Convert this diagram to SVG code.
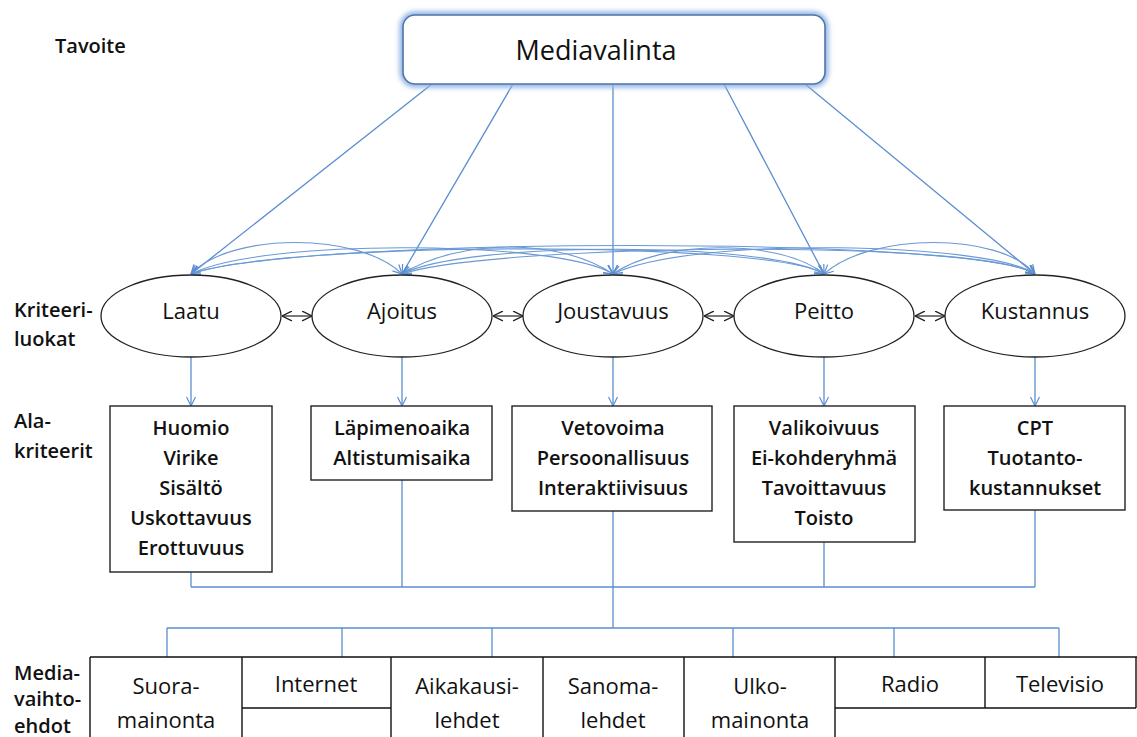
<svg xmlns="http://www.w3.org/2000/svg" width="1137" height="737" viewBox="0 0 1137 737">
<defs>
<marker id="ab" viewBox="0 0 10 10" refX="10" refY="5" markerWidth="10" markerHeight="10" markerUnits="userSpaceOnUse" orient="auto-start-reverse"><path d="M1,0.5 L10,5 L1,9.5" fill="none" stroke="#5B8ED0" stroke-width="1.2"/></marker>
<marker id="ak" viewBox="0 0 10 10" refX="10" refY="5" markerWidth="11" markerHeight="11" markerUnits="userSpaceOnUse" orient="auto-start-reverse"><path d="M1,0.5 L10,5 L1,9.5" fill="none" stroke="#222" stroke-width="1.2"/></marker>
<filter id="glow" x="-10%" y="-30%" width="120%" height="160%"><feGaussianBlur stdDeviation="2.5"/></filter>
</defs>
<style>
text{font-family:"Open Sans","Noto Sans","DejaVu Sans",sans-serif;fill:#111}
.lbl{font-size:20px;font-weight:600}
.sub{font-size:20px;font-weight:600;text-anchor:middle}
.ell{font-size:22px;text-anchor:middle}
.med{font-size:22px;text-anchor:middle}
.el{fill:#fff;stroke:#222;stroke-width:1.3}
.bx{fill:#fff;stroke:#222;stroke-width:1.4}
.cn{fill:none;stroke:#5B8ED0;stroke-width:1.3}
.cm{fill:none;stroke:#5B8ED0;stroke-width:1.3;marker-end:url(#ab)}
.cc{fill:none;stroke:#6A99D6;stroke-width:1.1;marker-start:url(#ab);marker-end:url(#ab)}
.dk{fill:none;stroke:#222;stroke-width:1.2;marker-start:url(#ak);marker-end:url(#ak)}
.mb{fill:none;stroke:#111;stroke-width:1.4}
</style>
<rect width="1137" height="737" fill="#fff"/>

<g id="labels">
<text class="lbl" x="55" y="53">Tavoite</text>
<text class="lbl" x="14" y="317">Kriteeri-</text>
<text class="lbl" x="14" y="346">luokat</text>
<text class="lbl" x="14" y="428">Ala-</text>
<text class="lbl" x="14" y="458">kriteerit</text>
<text class="lbl" x="14" y="680">Media-</text>
<text class="lbl" x="14" y="706">vaihto-</text>
<text class="lbl" x="14" y="733">ehdot</text>
</g>

<g id="connectors">
<line class="cm" x1="432" y1="84" x2="191" y2="274"/>
<line class="cm" x1="513" y1="84" x2="402" y2="274"/>
<line class="cm" x1="613" y1="84" x2="613" y2="274"/>
<line class="cm" x1="724" y1="84" x2="824" y2="274"/>
<line class="cm" x1="805" y1="84" x2="1035" y2="274"/>
<path class="cc" d="M191,274 C230,232 360,232 402,274"/>
<path class="cc" d="M191,274 C260,238 560,240 613,274"/>
<path class="cc" d="M191,274 C280,241 770,240 824,274"/>
<path class="cc" d="M191,274 C300,236 980,236 1035,274"/>
<path class="cc" d="M402,274 C460,238 560,238 613,274"/>
<path class="cc" d="M402,274 C470,240 770,242 824,274"/>
<path class="cc" d="M402,274 C490,244 980,238 1035,274"/>
<path class="cc" d="M613,274 C660,240 780,238 824,274"/>
<path class="cc" d="M613,274 C690,236 990,242 1035,274"/>
<path class="cc" d="M824,274 C870,232 1000,232 1035,274"/>
<line class="dk" x1="282" y1="316" x2="312" y2="316"/>
<line class="dk" x1="493" y1="316" x2="523" y2="316"/>
<line class="dk" x1="704" y1="316" x2="734" y2="316"/>
<line class="dk" x1="915" y1="316" x2="945" y2="316"/>
<line class="cm" x1="191" y1="356" x2="191" y2="406"/>
<line class="cm" x1="402" y1="356" x2="402" y2="406"/>
<line class="cm" x1="613" y1="356" x2="613" y2="406"/>
<line class="cm" x1="824" y1="356" x2="824" y2="406"/>
<line class="cm" x1="1035" y1="356" x2="1035" y2="406"/>
<path class="cn" d="M191,572 V587 M402,480 V587 M613,511 V628 M824,542 V587 M1035,510 V587 M191,587 H1035"/>
<path class="cn" d="M167,628 H1059 M167,628 V657 M342,628 V657 M492,628 V657 M733,628 V657 M894,628 V657 M1059,628 V657"/>
</g>

<g id="n-mediavalinta">
<rect x="403" y="15" width="422" height="69" rx="12" fill="none" stroke="#8FB3E3" stroke-width="7" filter="url(#glow)"/>
<rect x="403" y="15" width="422" height="69" rx="12" fill="#fff" stroke="#4F74A8" stroke-width="1.6"/>
<text x="596" y="60" style="font-size:27px;text-anchor:middle">Mediavalinta</text>
</g>

<g id="n-laatu"><ellipse class="el" cx="191" cy="316" rx="90" ry="41"/><text class="ell" x="191" y="319">Laatu</text></g>
<g id="n-ajoitus"><ellipse class="el" cx="402" cy="316" rx="90" ry="41"/><text class="ell" x="402" y="319">Ajoitus</text></g>
<g id="n-joustavuus"><ellipse class="el" cx="613" cy="316" rx="90" ry="41"/><text class="ell" x="613" y="319">Joustavuus</text></g>
<g id="n-peitto"><ellipse class="el" cx="824" cy="316" rx="90" ry="41"/><text class="ell" x="824" y="319">Peitto</text></g>
<g id="n-kustannus"><ellipse class="el" cx="1035" cy="316" rx="90" ry="41"/><text class="ell" x="1035" y="319">Kustannus</text></g>

<g id="s-laatu"><rect class="bx" x="110" y="406" width="162" height="166"/>
<text class="sub" x="191" y="435">Huomio</text><text class="sub" x="191" y="465">Virike</text><text class="sub" x="191" y="495">Sisältö</text><text class="sub" x="191" y="525">Uskottavuus</text><text class="sub" x="191" y="555">Erottuvuus</text></g>
<g id="s-ajoitus"><rect class="bx" x="311" y="406" width="181" height="74"/>
<text class="sub" x="402" y="435">Läpimenoaika</text><text class="sub" x="402" y="465">Altistumisaika</text></g>
<g id="s-joustavuus"><rect class="bx" x="512" y="406" width="200" height="105"/>
<text class="sub" x="613" y="435">Vetovoima</text><text class="sub" x="613" y="465">Persoonallisuus</text><text class="sub" x="613" y="495">Interaktiivisuus</text></g>
<g id="s-peitto"><rect class="bx" x="734" y="406" width="181" height="136"/>
<text class="sub" x="824" y="435">Valikoivuus</text><text class="sub" x="824" y="465">Ei-kohderyhmä</text><text class="sub" x="824" y="495">Tavoittavuus</text><text class="sub" x="824" y="525">Toisto</text></g>
<g id="s-kustannus"><rect class="bx" x="944" y="406" width="181" height="104"/>
<text class="sub" x="1035" y="435">CPT</text><text class="sub" x="1035" y="465">Tuotanto-</text><text class="sub" x="1035" y="495">kustannukset</text></g>

<g id="media">
<path class="mb" d="M90,657 H1137 M90,657 V737 M242,657 V737 M391,657 V737 M543,657 V737 M684,657 V737 M835,657 V737 M985,657 V708 M1136,657 V708 M242,708 H391 M835,708 H1136"/>
<g id="m-suora"><text class="med" x="166" y="694">Suora-</text><text class="med" x="166" y="728">mainonta</text></g>
<g id="m-internet"><text class="med" x="316" y="692">Internet</text></g>
<g id="m-aikakausi"><text class="med" x="467" y="694">Aikakausi-</text><text class="med" x="467" y="728">lehdet</text></g>
<g id="m-sanoma"><text class="med" x="613" y="694">Sanoma-</text><text class="med" x="613" y="728">lehdet</text></g>
<g id="m-ulko"><text class="med" x="760" y="694">Ulko-</text><text class="med" x="760" y="728">mainonta</text></g>
<g id="m-radio"><text class="med" x="910" y="692">Radio</text></g>
<g id="m-televisio"><text class="med" x="1060" y="692">Televisio</text></g>
</g>
</svg>
